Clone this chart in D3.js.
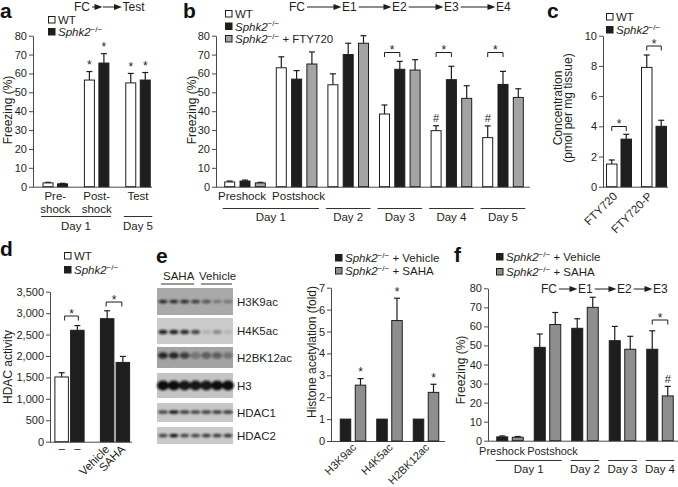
<!DOCTYPE html>
<html><head><meta charset="utf-8">
<script src="https://cdn.jsdelivr.net/npm/d3@7"></script>
<style>
body{margin:0;background:#fff}
svg{display:block}
</style></head><body>
<svg id="fig" width="678" height="487"></svg>
<script>
// ================= DATA =================
// panel a
const aGroups = ["Pre-shock","Post-shock","Test"];
const aLabelLines = [["Pre-","shock"],["Post-","shock"],["Test"]];
const aWT = [2, 56.5, 55];
const aWTErr = [0.3, 4.5, 5];
const aKO = [1.5, 65.5, 56.5];
const aKOErr = [0.3, 5, 4];
const aWTMark = ["", "*", "*"];
const aKOMark = ["", "*", "*"];
const aDays = ["Day 1", "Day 5"];
const aDaySpans = [[0,1],[2,2]];
const aTicks = [0,10,20,30,40,50,60,70,80];
const aFlow = ["FC", "", "Test"];

// panel b
const bGroups = ["Preshock","Postshock","Day 2","Day 3","Day 4","Day 5"];
const bWT = [2.5, 63, 54, 38.5, 29.7, 26];
const bWTErr = [0.5, 5.8, 5.8, 4.8, 2.6, 6.2];
const bKO = [3, 57, 70, 62.2, 56.7, 54.2];
const bKOErr = [0.5, 4.5, 6, 4.2, 7.1, 6.9];
const bFTY = [2, 65, 76, 61.8, 46.8, 47.3];
const bFTYErr = [0.3, 6.4, 4, 5.5, 6.7, 4.6];
const bWTMark = ["", "", "", "", "#", "#"];
const bBrackets = ["Day 3", "Day 4", "Day 5"];
const bDays = ["Day 1","Day 2","Day 3","Day 4","Day 5"];
const bDaySpans = [[0,1],[2,2],[3,3],[4,4],[5,5]];
const bFlow = ["FC","E1","E2","E3","E4"];

// panel c
const cGroups = ["FTY720","FTY720-P"];
const cWT = [1.5, 7.9];
const cWTErr = [0.27, 0.82];
const cKO = [3.15, 4.0];
const cKOErr = [0.32, 0.4];
const cTicks = [0,2,4,6,8,10];

// panel d
const dGroups = ["untreated","treated"];
const dLabels = ["–","–","Vehicle","SAHA"];
const dFirst = [1510, 2870];      // WT, Sphk2-/- + Vehicle
const dFirstErr = [100, 185];
const dSecond = [2600, 1850];     // Sphk2-/-, Sphk2-/- + SAHA
const dSecondErr = [110, 140];
const dTicks = [0,500,1000,1500,2000,2500,3000,3500];

// panel e (blot)
const blotRows = ["H3K9ac","H4K5ac","H2BK12ac","H3","HDAC1","HDAC2"];
const blotH3K9ac = [0.85,0.85,0.85,0.75,0.6,0.3,0.35];
const blotH4K5ac = [0.9,0.9,0.85,0.7,0.12,0.3,0.1];
const blotH2BK12ac = [0.85,0.85,0.7,0.35,0.5,0.5,0.3];
const blotH3 = [1,1,0.95,0.95,0.95,1,1];
const blotHDAC1 = [0.75,1,0.8,0.75,0.8,0.8,0.8];
const blotHDAC2 = [0.75,1,0.75,0.75,0.8,0.8,0.8];

// panel e (chart)
const eGroups = ["H3K9ac","H4K5ac","H2BK12ac"];
const eVeh = [1, 1, 1];
const eVehErr = [0, 0, 0];
const eSAHA = [2.55, 5.5, 2.22];
const eSAHAErr = [0.3, 1.02, 0.37];
const eSAHAMark = ["*","*","*"];
const eTicks = [0,1,2,3,4,5,6,7];

// panel f
const fGroups = ["Preshock","Postshock","Day 2","Day 3","Day 4"];
const fVeh = [2, 49, 59, 52.5, 48];
const fVehErr = [0.5, 7, 5, 7.5, 9.7];
const fSAHA = [1.8, 61, 70, 48, 23.5];
const fSAHAErr = [0.4, 6.3, 5.3, 6.8, 5];
const fSAHAMark = ["", "", "", "", "#"];
const fDays = ["Day 1","Day 2","Day 3","Day 4"];
const fDaySpans = [[0,1],[2,2],[3,3],[4,4]];
const fFlow = ["FC","E1","E2","E3"];

// ================= STYLE =================
const FONT = "'Liberation Sans', Arial, Helvetica, sans-serif";
const TXT = "#231f20";
const AX = "#4a4a4a";
const BLACK = "#1f1d1e";
const GRAY_B = "#a4a4a4";
const GRAY_E = "#8e8e8e";

const svg = d3.select("#fig").attr("font-family", FONT);
svg.append("rect").attr("width",678).attr("height",487).attr("fill","#fff");
const defs = svg.append("defs");
defs.append("filter").attr("id","blur").attr("x","-50%").attr("y","-50%").attr("width","200%").attr("height","200%")
  .append("feGaussianBlur").attr("stdDeviation",0.9);

// ================= HELPERS =================
function yAxis(g, y, x, ticks, fmt) {
  const ax = d3.axisLeft(y).tickValues(ticks).tickSize(4).tickSizeOuter(0).tickPadding(2)
    .tickFormat(fmt || d3.format("d"));
  const a = g.append("g").attr("transform", `translate(${x},0)`).call(ax);
  a.attr("font-family", FONT).attr("font-size", 11);
  a.selectAll("text").attr("fill", TXT);
  a.selectAll("line").attr("stroke", AX);
  a.select(".domain").attr("stroke", AX);
  return a;
}
function baseline(g, y, x, xEnd) {
  g.append("line").attr("x1", x).attr("x2", xEnd).attr("y1", y(0) + 0.5).attr("y2", y(0) + 0.5)
    .attr("stroke", AX).attr("stroke-width", 1);
}
function yLabel(g, x, yc, lines) {
  lines.forEach((t, i) => {
    g.append("text").attr("transform", `translate(${x + i * 10},${yc}) rotate(-90)`)
      .attr("text-anchor", "middle").attr("font-size", 12).attr("fill", TXT).text(t);
  });
}
function bars(g, y, groups, series, cfg) {
  const x0 = d3.scalePoint().domain(groups).range(cfg.centers);
  const n = series.length;
  const R = n * cfg.bw + (n - 1) * cfg.gap;
  const x1 = d3.scaleBand().domain(d3.range(n)).range([-R / 2, R / 2])
    .paddingInner(cfg.gap / (cfg.bw + cfg.gap)).paddingOuter(0);
  series.forEach((s, si) => {
    const data = groups.map((grp, i) => ({
      grp, v: s.vals[i], e: s.errs[i], m: s.marks ? s.marks[i] : "",
      fill: s.fills ? s.fills[i] : s.fill
    }));
    const cx = d => x0(d.grp) + x1(si) + x1.bandwidth() / 2;
    const gg = g.append("g");
    const eb = data.filter(d => d.e > 0);
    gg.selectAll("line.v").data(eb).join("line").attr("class", "v")
      .attr("x1", cx).attr("x2", cx).attr("y1", d => y(d.v)).attr("y2", d => y(d.v + d.e))
      .attr("stroke", BLACK).attr("stroke-width", 1.2);
    gg.selectAll("line.c").data(eb).join("line").attr("class", "c")
      .attr("x1", d => cx(d) - 3).attr("x2", d => cx(d) + 3)
      .attr("y1", d => y(d.v + d.e)).attr("y2", d => y(d.v + d.e))
      .attr("stroke", BLACK).attr("stroke-width", 1.2);
    gg.selectAll("rect").data(data).join("rect")
      .attr("x", d => x0(d.grp) + x1(si) + 0.5).attr("y", d => y(d.v))
      .attr("width", x1.bandwidth() - 1).attr("height", d => y(0) - y(d.v))
      .attr("fill", d => d.fill).attr("stroke", BLACK).attr("stroke-width", 1);
    gg.selectAll("text").data(data.filter(d => d.m)).join("text")
      .attr("x", cx).attr("y", d => y(d.v + d.e) - (d.m === "#" ? 3.5 : 2.5))
      .attr("text-anchor", "middle").attr("font-size", d => d.m === "#" ? 11 : 12)
      .attr("fill", TXT).text(d => d.m);
  });
  return { x0, x1, half: R / 2, cx: (grp, si) => x0(grp) + x1(si) + x1.bandwidth() / 2 };
}
function bracket(g, xa, xb, yy) {
  g.append("path").attr("d", `M${xa},${yy + 4.5}V${yy}H${xb}V${yy + 4.5}`)
    .attr("fill", "none").attr("stroke", BLACK).attr("stroke-width", 1);
  g.append("text").attr("x", (xa + xb) / 2).attr("y", yy + 1.5).attr("text-anchor", "middle")
    .attr("font-size", 12).attr("fill", TXT).text("*");
}
function dayLines(g, sc, groups, days, spans, yLine, yText, pad) {
  days.forEach((dl, i) => {
    const a = sc.x0(groups[spans[i][0]]) - sc.half - pad;
    const b = sc.x0(groups[spans[i][1]]) + sc.half + pad;
    g.append("line").attr("x1", a).attr("x2", b).attr("y1", yLine).attr("y2", yLine)
      .attr("stroke", "#333").attr("stroke-width", 1);
    g.append("text").attr("x", (a + b) / 2).attr("y", yText).attr("text-anchor", "middle")
      .attr("font-size", 11.5).attr("fill", TXT).text(dl);
  });
}
function flow(g, yLine, labels, xs) {
  const ends = [];
  labels.forEach((t, i) => {
    let w = 0;
    if (t) {
      const tx = g.append("text").attr("x", xs[i]).attr("y", yLine + 4.3).attr("font-size", 12)
        .attr("fill", TXT).text(t);
      w = tx.node().getComputedTextLength();
    }
    ends.push(xs[i] + w + (t ? 2 : 0));
  });
  for (let i = 0; i < labels.length - 1; i++) {
    const s = ends[i], e = xs[i + 1] - 0.5;
    g.append("line").attr("x1", s).attr("x2", e - 6).attr("y1", yLine).attr("y2", yLine)
      .attr("stroke", BLACK).attr("stroke-width", 1);
    g.append("path").attr("d", `M${e - 8},${yLine - 3}L${e},${yLine}L${e - 8},${yLine + 3}Z`).attr("fill", BLACK);
  }
}
function sphk(t, suffix) {
  t.append("tspan").attr("font-style", "italic").text("Sphk2");
  t.append("tspan").attr("font-size", 8).attr("dy", -4.5).text("−/−");
  if (suffix) t.append("tspan").attr("dy", 4.5).text(suffix);
}
function legend(g, x, ys, items) {
  items.forEach((it, i) => {
    g.append("rect").attr("x", x + 0.5).attr("y", ys[i] - 7.5).attr("width", 6.5).attr("height", 6.5)
      .attr("fill", it.fill).attr("stroke", BLACK).attr("stroke-width", 1);
    const t = g.append("text").attr("x", x + 10).attr("y", ys[i]).attr("font-size", 11.5).attr("fill", TXT);
    if (it.wt) t.text("WT"); else sphk(t, it.suffix);
  });
}
function panelLetter(x, y, ch) {
  svg.append("text").attr("x", x).attr("y", y).attr("font-size", 21).attr("font-weight", "bold")
    .attr("fill", "#111").text(ch);
}

// ================= PANEL A =================
{
  const g = svg.append("g");
  panelLetter(0, 18, "a");
  const y = d3.scaleLinear().domain([0, 80]).range([186.7, 35.7]);
  yAxis(g, y, 33, aTicks);
  baseline(g, y, 33, 152);
  const sc = bars(g, y, aGroups, [
    { vals: aWT, errs: aWTErr, fill: "#fff", marks: aWTMark },
    { vals: aKO, errs: aKOErr, fill: BLACK, marks: aKOMark }
  ], { centers: [55.3, 138], bw: 11, gap: 3.5 });
  aLabelLines.forEach((ls, i) => ls.forEach((t, j) => {
    g.append("text").attr("x", sc.x0(aGroups[i])).attr("y", 200 + j * 12.5).attr("text-anchor", "middle")
      .attr("font-size", 11.5).attr("fill", TXT).text(t);
  }));
  dayLines(g, sc, aGroups, aDays, aDaySpans, 216.5, 230, 1.5);
  yLabel(g, 12, 110, ["Freezing (%)"]);
  legend(g, 48, [24, 36], [{ fill: "#fff", wt: true }, { fill: BLACK }]);
  flow(g, 7, aFlow, [74, 103, 122.5]);
}

// ================= PANEL B =================
{
  const g = svg.append("g");
  panelLetter(183, 18, "b");
  const y = d3.scaleLinear().domain([0, 80]).range([186.7, 35.7]);
  yAxis(g, y, 216, aTicks);
  baseline(g, y, 216, 530);
  const sc = bars(g, y, bGroups, [
    { vals: bWT, errs: bWTErr, fill: "#fff", marks: bWTMark },
    { vals: bKO, errs: bKOErr, fill: BLACK },
    { vals: bFTY, errs: bFTYErr, fill: GRAY_B }
  ], { centers: [245, 503], bw: 11, gap: 4.3 });
  bBrackets.forEach(grp => bracket(g, sc.cx(grp, 0), sc.cx(grp, 1), 52.5));
  g.append("text").attr("x", sc.x0("Preshock") - 3).attr("y", 200).attr("text-anchor", "middle")
    .attr("font-size", 11.5).attr("fill", TXT).text("Preshock");
  g.append("text").attr("x", sc.x0("Postshock") + 2).attr("y", 200).attr("text-anchor", "middle")
    .attr("font-size", 11.5).attr("fill", TXT).text("Postshock");
  dayLines(g, sc, bGroups, bDays, bDaySpans, 208.5, 221, 1.5);
  yLabel(g, 196, 110, ["Freezing (%)"]);
  legend(g, 225, [18, 30.5, 43], [{ fill: "#fff", wt: true }, { fill: BLACK }, { fill: GRAY_B, suffix: " + FTY720" }]);
  flow(g, 7, bFlow, [289, 342, 392, 444, 496]);
}

// ================= PANEL C =================
{
  const g = svg.append("g");
  panelLetter(547, 18, "c");
  const y = d3.scaleLinear().domain([0, 10]).range([186.7, 35.7]);
  yAxis(g, y, 603, cTicks);
  baseline(g, y, 603, 668);
  const sc = bars(g, y, cGroups, [
    { vals: cWT, errs: cWTErr, fill: "#fff" },
    { vals: cKO, errs: cKOErr, fill: BLACK }
  ], { centers: [619, 654], bw: 11.5, gap: 3 });
  bracket(g, sc.cx("FTY720", 0), sc.cx("FTY720", 1), 126.5);
  bracket(g, sc.cx("FTY720-P", 0), sc.cx("FTY720-P", 1), 46);
  cGroups.forEach(grp => {
    g.append("text").attr("transform", `translate(${sc.x0(grp) - 1},197) rotate(-45)`)
      .attr("text-anchor", "end").attr("font-size", 11.5).attr("fill", TXT).text(grp);
  });
  yLabel(g, 562, 108, ["Concentration", "(pmol per mg tissue)"]);
  legend(g, 606, [21, 34], [{ fill: "#fff", wt: true }, { fill: BLACK }]);
}

// ================= PANEL D =================
{
  const g = svg.append("g");
  panelLetter(0, 256, "d");
  const y = d3.scaleLinear().domain([0, 3500]).range([441.7, 291.7]);
  yAxis(g, y, 50, dTicks, d3.format(","));
  baseline(g, y, 50, 132);
  const sc = bars(g, y, dGroups, [
    { vals: dFirst, errs: dFirstErr, fills: ["#fff", BLACK] },
    { vals: dSecond, errs: dSecondErr, fill: BLACK }
  ], { centers: [69.5, 115], bw: 14.5, gap: 1.2 });
  bracket(g, sc.cx("untreated", 0) + 3, sc.cx("untreated", 1) + 1, 316);
  bracket(g, sc.cx("treated", 0) - 1, sc.cx("treated", 1) - 1, 302);
  [0, 1].forEach(si => {
    g.append("text").attr("x", sc.cx("untreated", si)).attr("y", 452).attr("text-anchor", "middle")
      .attr("font-size", 11.5).attr("fill", TXT).text(dLabels[si]);
    g.append("text").attr("transform", `translate(${sc.cx("treated", si) + 3},450) rotate(-45)`)
      .attr("text-anchor", "end").attr("font-size", 11.5).attr("fill", TXT).text(dLabels[2 + si]);
  });
  yLabel(g, 12, 367, ["HDAC activity"]);
  legend(g, 64, [260, 274], [{ fill: "#fff", wt: true }, { fill: BLACK }]);
}

// ================= PANEL E (blot) =================
{
  const g = svg.append("g");
  panelLetter(156, 263, "e");
  g.append("text").attr("x", 163).attr("y", 280).attr("font-size", 11.5).attr("fill", TXT).text("SAHA");
  g.append("text").attr("x", 199).attr("y", 280).attr("font-size", 11.5).attr("fill", TXT).text("Vehicle");
  g.append("line").attr("x1", 161).attr("x2", 194).attr("y1", 284).attr("y2", 284).attr("stroke", "#333");
  g.append("line").attr("x1", 201).attr("x2", 232).attr("y1", 284).attr("y2", 284).attr("stroke", "#333");
  const rowY = [288, 318, 347, 373, 403, 427];
  const rowH = [27, 26, 21, 25, 19, 17];
  const rowBg = ["#a9a9a9", "#cbcbcb", "#a3a3a3", "#c4c4c4", "#c7c7c7", "#c9c9c9"];
  const bandRx = [4.5, 4.5, 5, 6, 5, 4.5];
  const bandRy = [1.8, 2.2, 3.2, 5, 1.8, 1.8];
  const bandDy = [0, 1, -2, 0, -0.5, 0];
  const intens = [blotH3K9ac, blotH4K5ac, blotH2BK12ac, blotH3, blotHDAC1, blotHDAC2];
  const lane = d3.scalePoint().domain(d3.range(7)).range([163, 228]);
  blotRows.forEach((name, r) => {
    g.append("rect").attr("x", 157).attr("y", rowY[r]).attr("width", 76).attr("height", rowH[r]).attr("fill", rowBg[r]);
    const cy = rowY[r] + rowH[r] / 2 + bandDy[r];
    g.append("g").attr("filter", "url(#blur)").selectAll("ellipse").data(intens[r]).join("ellipse")
      .attr("cx", (d, i) => lane(i)).attr("cy", cy).attr("rx", bandRx[r]).attr("ry", bandRy[r])
      .attr("fill", "#111").attr("opacity", d => d);
    g.append("text").attr("x", 237).attr("y", rowY[r] + rowH[r] / 2 + 4.2).attr("font-size", 11.5)
      .attr("fill", TXT).text(name);
  });
}

// ================= PANEL E (chart) =================
{
  const g = svg.append("g");
  const y = d3.scaleLinear().domain([0, 7]).range([441, 287.7]);
  yAxis(g, y, 331, eTicks);
  baseline(g, y, 331, 445);
  const sc = bars(g, y, eGroups, [
    { vals: eVeh, errs: eVehErr, fill: BLACK },
    { vals: eSAHA, errs: eSAHAErr, fill: GRAY_E, marks: eSAHAMark }
  ], { centers: [353, 426], bw: 11.5, gap: 3.5 });
  eGroups.forEach(grp => {
    g.append("text").attr("transform", `translate(${sc.x0(grp) + 4},448) rotate(-45)`)
      .attr("text-anchor", "end").attr("font-size", 11).attr("fill", TXT).text(grp);
  });
  yLabel(g, 316, 352, ["Histone acetylation (fold)"]);
  legend(g, 335, [262, 275], [{ fill: BLACK, suffix: " + Vehicle" }, { fill: GRAY_E, suffix: " + SAHA" }]);
}

// ================= PANEL F =================
{
  const g = svg.append("g");
  panelLetter(454, 262, "f");
  const y = d3.scaleLinear().domain([0, 80]).range([440.7, 288.3]);
  yAxis(g, y, 488, aTicks);
  baseline(g, y, 488, 678);
  const sc = bars(g, y, fGroups, [
    { vals: fVeh, errs: fVehErr, fill: BLACK },
    { vals: fSAHA, errs: fSAHAErr, fill: GRAY_E, marks: fSAHAMark }
  ], { centers: [510, 660], bw: 12, gap: 3.5 });
  bracket(g, sc.cx("Day 4", 0), sc.cx("Day 4", 1), 320);
  g.append("text").attr("x", sc.x0("Preshock") - 8).attr("y", 455).attr("text-anchor", "middle")
    .attr("font-size", 11).attr("fill", TXT).text("Preshock");
  g.append("text").attr("x", sc.x0("Postshock") + 5).attr("y", 455).attr("text-anchor", "middle")
    .attr("font-size", 11).attr("fill", TXT).text("Postshock");
  dayLines(g, sc, fGroups, fDays, fDaySpans, 460.5, 473, 0.5);
  yLabel(g, 465, 370, ["Freezing (%)"]);
  legend(g, 496, [261, 276], [{ fill: BLACK, suffix: " + Vehicle" }, { fill: GRAY_E, suffix: " + SAHA" }]);
  flow(g, 289, fFlow, [541, 578, 617, 653]);
}
</script>
</body></html>
